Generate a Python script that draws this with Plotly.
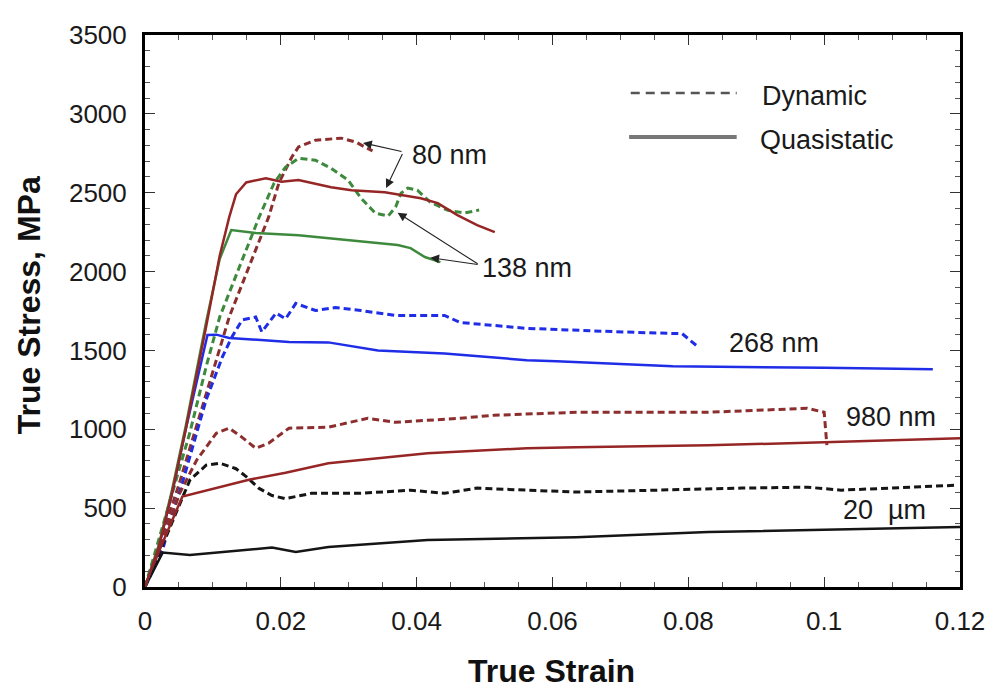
import plotly.graph_objects as go

# ---------------- data ----------------
# 80 nm
nm80_dyn_strain = [0, 0.005, 0.0095, 0.0124, 0.0153, 0.0182, 0.0197, 0.0216, 0.0226, 0.0251, 0.0289, 0.0311, 0.0324, 0.0335]
nm80_dyn_stress = [0, 650, 1294, 1712, 2029, 2345, 2560, 2725, 2790, 2833, 2846, 2820, 2789, 2765]
nm80_qs_strain = [0, 0.002, 0.004, 0.006, 0.009, 0.011, 0.0124, 0.0134, 0.0149, 0.0178, 0.0201, 0.0226, 0.0274, 0.0304, 0.0353, 0.0406, 0.0431, 0.046, 0.0489, 0.0515]
nm80_qs_stress = [0, 250, 600, 1000, 1650, 2100, 2345, 2490, 2565, 2592, 2570, 2580, 2535, 2516, 2503, 2465, 2434, 2358, 2295, 2250]

# 138 nm
nm138_dyn_strain = [0, 0.0066, 0.009, 0.011, 0.0139, 0.0168, 0.019, 0.0207, 0.0226, 0.0251, 0.0274, 0.0299, 0.0318, 0.0339, 0.0358, 0.0369, 0.0377, 0.0387, 0.0401, 0.042, 0.0445, 0.047, 0.0492]
nm138_dyn_stress = [0, 978, 1396, 1712, 2029, 2345, 2560, 2662, 2718, 2706, 2655, 2580, 2466, 2371, 2352, 2409, 2497, 2529, 2516, 2440, 2390, 2371, 2390]
nm138_qs_strain = [0, 0.002, 0.004, 0.006, 0.009, 0.011, 0.0127, 0.0163, 0.0226, 0.0299, 0.0372, 0.0391, 0.0412, 0.0435]
nm138_qs_stress = [0, 260, 620, 1020, 1680, 2080, 2263, 2244, 2231, 2200, 2168, 2149, 2092, 2060]

# 268 nm
nm268_dyn_strain = [0, 0.0026, 0.0041, 0.0055, 0.0069, 0.009, 0.0114, 0.0128, 0.0143, 0.0163, 0.0172, 0.0193, 0.0207, 0.0222, 0.0251, 0.028, 0.0318, 0.0368, 0.0441, 0.0464, 0.0562, 0.0635, 0.0704, 0.0791, 0.0815]
nm268_dyn_stress = [0, 237, 471, 660, 870, 1187, 1459, 1586, 1693, 1712, 1617, 1737, 1700, 1798, 1753, 1772, 1753, 1722, 1722, 1677, 1640, 1627, 1617, 1606, 1520]
nm268_qs_strain = [0, 0.002, 0.004, 0.006, 0.0092, 0.0105, 0.0124, 0.0212, 0.027, 0.0343, 0.0441, 0.0562, 0.0606, 0.0777, 0.1, 0.116]
nm268_qs_stress = [0, 250, 600, 1000, 1598, 1600, 1579, 1554, 1551, 1500, 1481, 1438, 1431, 1400, 1390, 1380]

# 980 nm
nm980_dyn_strain = [0, 0.0051, 0.0076, 0.0105, 0.0124, 0.0143, 0.0163, 0.0182, 0.0212, 0.027, 0.0328, 0.0368, 0.0464, 0.0514, 0.0635, 0.0829, 0.0975, 0.1, 0.1004]
nm980_dyn_stress = [0, 594, 804, 975, 1007, 949, 880, 912, 1007, 1013, 1070, 1044, 1070, 1089, 1108, 1108, 1133, 1108, 899]
nm980_qs_strain = [0, 0.002, 0.0055, 0.0153, 0.0207, 0.027, 0.0416, 0.0562, 0.0635, 0.0829, 0.1, 0.12]
nm980_qs_stress = [0, 220, 573, 680, 725, 785, 848, 880, 886, 898, 918, 943]

# 20 um
um20_dyn_strain = [0, 0.0066, 0.009, 0.011, 0.0134, 0.0149, 0.0168, 0.0187, 0.0207, 0.0245, 0.0318, 0.0391, 0.0441, 0.0489, 0.0562, 0.0635, 0.0879, 0.0975, 0.1025, 0.1194]
um20_dyn_stress = [0, 678, 772, 785, 750, 700, 625, 580, 560, 594, 594, 614, 594, 627, 614, 602, 627, 633, 614, 645]
um20_qs_strain = [0, 0.0026, 0.0066, 0.0187, 0.0222, 0.027, 0.0416, 0.0635, 0.0829, 0.12]
um20_qs_stress = [0, 218, 203, 250, 222, 253, 298, 316, 348, 380]

x_ticks = [0, 0.02, 0.04, 0.06, 0.08, 0.1, 0.12]
x_tick_labels = ["0", "0.02", "0.04", "0.06", "0.08", "0.1", "0.12"]
y_ticks = [0, 500, 1000, 1500, 2000, 2500, 3000, 3500]
y_tick_labels = ["0", "500", "1000", "1500", "2000", "2500", "3000", "3500"]

# annotation anchor values (data units)
labels = [
    ("80 nm", 0.039, 2740),
    ("138 nm", 0.0493, 2024),
    ("268 nm", 0.0857, 1549),
    ("980 nm", 0.1029, 1077),
    ("20  \u00b5m", 0.1025, 491),
]
# arrows: (tip strain, tip stress, tail strain, tail stress)
arrows = [
    (0.0321, 2816, 0.038, 2759),
    (0.0355, 2530, 0.038, 2755),
    (0.0372, 2373, 0.0492, 2043),
    (0.0420, 2088, 0.0492, 2043),
]

# ---------------- styling ----------------
RED = "#962626"
RED_D = "#8c2e2e"
GREEN = "#3d8a3d"
BLUE = "#1f2de6"
BLACK = "#151515"
DASH = "7px,4px"
FONT = "Liberation Sans, Arial, sans-serif"
TXT = 27

fig = go.Figure()

series = [
    (nm80_dyn_strain, nm80_dyn_stress, RED_D, True),
    (nm138_dyn_strain, nm138_dyn_stress, GREEN, True),
    (nm268_dyn_strain, nm268_dyn_stress, BLUE, True),
    (nm980_dyn_strain, nm980_dyn_stress, RED_D, True),
    (um20_dyn_strain, um20_dyn_stress, BLACK, True),
    (nm980_qs_strain, nm980_qs_stress, RED, False),
    (um20_qs_strain, um20_qs_stress, BLACK, False),
    (nm268_qs_strain, nm268_qs_stress, BLUE, False),
    (nm138_qs_strain, nm138_qs_stress, GREEN, False),
    (nm80_qs_strain, nm80_qs_stress, RED, False),
]
for xs, ys, col, dyn in series:
    fig.add_trace(go.Scatter(
        x=xs, y=ys, mode="lines", showlegend=False, hoverinfo="skip",
        line=dict(color=col, width=3 if dyn else 2.5, dash=DASH if dyn else "solid"),
    ))

annotations = []
for text, sx, sy in labels:
    annotations.append(dict(x=sx, y=sy, xref="x", yref="y", text=text, showarrow=False,
                            xanchor="left", yanchor="middle",
                            font=dict(family=FONT, size=TXT, color="#1a1a1a")))
for tx, ty, ax, ay in arrows:
    annotations.append(dict(x=tx, y=ty, xref="x", yref="y", ax=ax, ay=ay, axref="x", ayref="y",
                            text="", showarrow=True, arrowhead=2, arrowsize=1.6,
                            arrowwidth=1.1, arrowcolor="#222", standoff=0))

# legend (drawn by hand to match the long line samples)
annotations.append(dict(x=0.754, y=0.890, xref="paper", yref="paper", text="Dynamic", showarrow=False,
                        xanchor="left", yanchor="middle", font=dict(family=FONT, size=TXT, color="#1a1a1a")))
annotations.append(dict(x=0.752, y=0.810, xref="paper", yref="paper", text="Quasistatic", showarrow=False,
                        xanchor="left", yanchor="middle", font=dict(family=FONT, size=TXT, color="#1a1a1a")))

# axis titles
annotations.append(dict(x=-0.142, y=0.511, xref="paper", yref="paper", text="<b>True Stress, MPa</b>",
                        showarrow=False, textangle=-90, xanchor="center", yanchor="middle",
                        font=dict(family=FONT, size=32, color="#111")))
annotations.append(dict(x=0.499, y=-0.153, xref="paper", yref="paper", text="<b>True Strain</b>",
                        showarrow=False, xanchor="center", yanchor="middle",
                        font=dict(family=FONT, size=32, color="#111")))

shapes = [
    dict(type="line", xref="paper", yref="paper", x0=0.596, x1=0.726, y0=0.895, y1=0.895,
         line=dict(color="#555", width=2.5, dash="9px,6px")),
    dict(type="line", xref="paper", yref="paper", x0=0.594, x1=0.726, y0=0.815, y1=0.815,
         line=dict(color="#777", width=4)),
]

axis_common = dict(
    showline=True, linewidth=3, linecolor="black", mirror="allticks",
    ticks="inside", ticklen=10, tickwidth=1.2, tickcolor="#333",
    showgrid=False, zeroline=False,
    tickfont=dict(family=FONT, size=26, color="#1a1a1a"),
)

fig.update_layout(
    width=997, height=690,
    margin=dict(l=145, r=30, t=35, b=103),
    paper_bgcolor="white", plot_bgcolor="white",
    showlegend=False,
    annotations=annotations, shapes=shapes,
    xaxis=dict(range=[0, 0.12], tickvals=x_ticks, ticktext=x_tick_labels,
               minor=dict(dtick=0.005, ticklen=5, ticks="inside", tickcolor="#555", tickwidth=1),
               ticklabelstandoff=9, **axis_common),
    yaxis=dict(range=[0, 3500], tickvals=y_ticks, ticktext=y_tick_labels,
               minor=dict(dtick=100, ticklen=5, ticks="inside", tickcolor="#555", tickwidth=1),
               ticklabelstandoff=10, **axis_common),
)

fig.write_html("out.html")
